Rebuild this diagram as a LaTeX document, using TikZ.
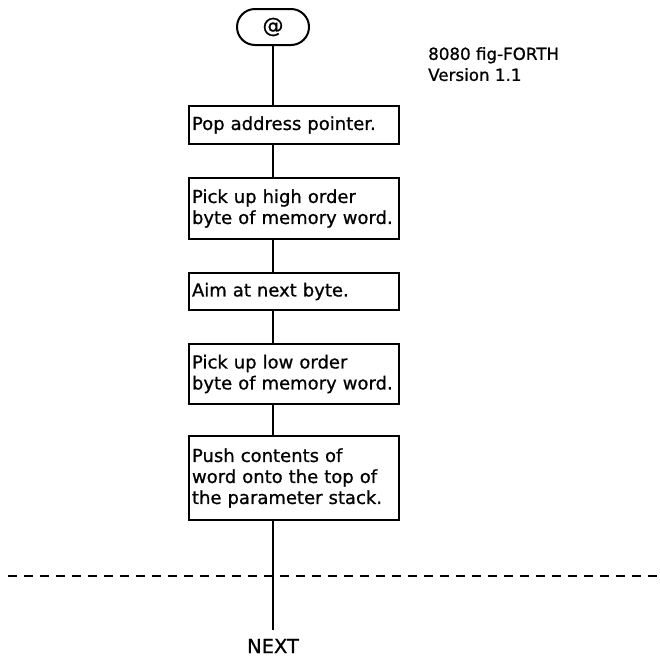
\documentclass[tikz,border=0pt]{standalone}
\usepackage{fontspec}
\setmainfont{DejaVu Sans}[FakeBold=0.8,AutoFakeBold=0.8]
\begin{document}
\begin{tikzpicture}[x=1pt,y=-1pt,
  stepbox/.style={draw,line width=2pt,minimum width=210pt,text width=204pt,
    inner xsep=3pt,inner ysep=0pt,align=left,anchor=north west,
    font=\fontsize{18}{21}\selectfont\bfseries},
  term/.style={draw,line width=2pt,rounded corners=18pt,minimum width=72pt,
    minimum height=36pt,inner sep=0pt,font=\fontsize{21}{22}\selectfont\bfseries},
  conn/.style={line width=2pt},
  lbl/.style={inner sep=0pt,align=left,font=\fontsize{16.7}{21}\selectfont\bfseries}]
\useasboundingbox (0,0) rectangle (660,657);
\node[term] (at) at (273,27) {@};
\node[stepbox,minimum height=38pt] (b1) at (188,105) {Pop address pointer.};
\node[stepbox,minimum height=61pt] (b2) at (188,177) {Pick up high order\\byte of memory word.};
\node[stepbox,minimum height=37pt] (b3) at (188,272) {Aim at next byte.};
\node[stepbox,minimum height=60pt] (b4) at (188,343) {Pick up low order\\byte of memory word.};
\node[stepbox,minimum height=84pt] (b5) at (188,435) {Push contents of\\word onto the top of\\the parameter stack.};
\node[lbl,anchor=north west] (ver) at (428,47) {8080 fig-FORTH\\Version 1.1};
\node[inner sep=0pt,font=\fontsize{19.5}{22}\selectfont\bfseries] (next) at (273,646) {NEXT};
\coordinate (dl) at (8,576);
\coordinate (dr) at (660,576);
\coordinate (end) at (273,630);
\draw[line width=2pt,dash pattern=on 9pt off 7pt] (dl) -- (dr);
\draw[conn] (at.south) -- (at.south |- b1.north);
\draw[conn] (b1.south -| at) -- (b2.north -| at);
\draw[conn] (b2.south -| at) -- (b3.north -| at);
\draw[conn] (b3.south -| at) -- (b4.north -| at);
\draw[conn] (b4.south -| at) -- (b5.north -| at);
\draw[conn] (b5.south -| at) -- (end);
\end{tikzpicture}
\end{document}
